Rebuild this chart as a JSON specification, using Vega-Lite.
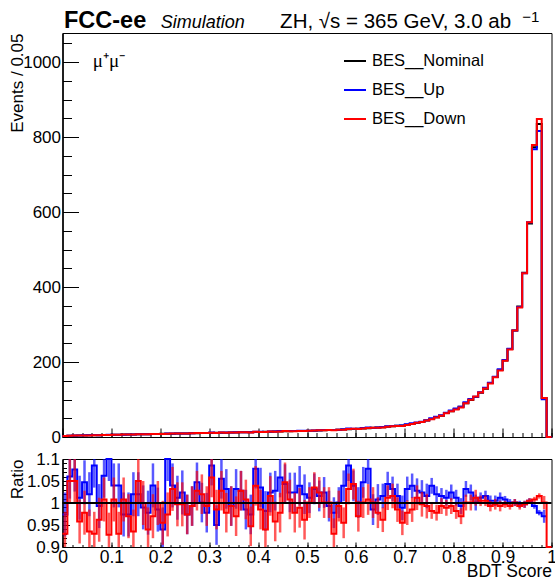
{
  "$schema": "https://vega.github.io/schema/vega-lite/v6.json",
  "padding": {"left": 7.5, "top": 8, "right": 0, "bottom": 0},
  "spacing": 3,
  "config": {
    "font": "Liberation Sans",
    "view": {"stroke": "#000000", "strokeWidth": 1},
    "axis": {"domainColor": "#000000", "tickColor": "#000000", "labelColor": "#000000", "titleColor": "#000000", "titleFontWeight": "normal", "grid": false, "labelFont": "Liberation Sans", "titleFont": "Liberation Sans", "labelOverlap": false, "labelFlush": false}
  },
  "datasets": {
    "hist": [
      {"x":0,"n":3,"u":2.9,"d":2.8},
      {"x":0.005,"n":3,"u":2.9,"d":2.8},
      {"x":0.015,"n":3.3,"u":3.5,"d":3.5},
      {"x":0.025,"n":3.6,"u":3.9,"d":3.8},
      {"x":0.035,"n":3.9,"u":3.9,"d":3.7},
      {"x":0.045,"n":4.2,"u":4.4,"d":4.1},
      {"x":0.055,"n":4.5,"u":4.6,"d":4.2},
      {"x":0.065,"n":4.8,"u":5.2,"d":4.5},
      {"x":0.075,"n":5,"u":5.0,"d":4.8},
      {"x":0.085,"n":5.3,"u":5.6,"d":5.3},
      {"x":0.095,"n":5.6,"u":6.2,"d":5.2},
      {"x":0.105,"n":5.9,"u":6.1,"d":5.9},
      {"x":0.115,"n":6.1,"u":6.3,"d":5.7},
      {"x":0.125,"n":6.4,"u":6.2,"d":6.5},
      {"x":0.135,"n":6.6,"u":6.4,"d":6.4},
      {"x":0.145,"n":6.9,"u":7.0,"d":6.5},
      {"x":0.155,"n":7.1,"u":7.2,"d":7.5},
      {"x":0.165,"n":7.4,"u":7.3,"d":7.4},
      {"x":0.175,"n":7.6,"u":7.4,"d":7.1},
      {"x":0.185,"n":7.9,"u":8.2,"d":7.7},
      {"x":0.195,"n":8.1,"u":8.0,"d":8.1},
      {"x":0.205,"n":8.4,"u":7.9,"d":8.0},
      {"x":0.215,"n":8.6,"u":9.5,"d":8.4},
      {"x":0.225,"n":8.9,"u":9.3,"d":9.2},
      {"x":0.235,"n":9.1,"u":9.2,"d":9.1},
      {"x":0.245,"n":9.4,"u":9.6,"d":9.4},
      {"x":0.255,"n":9.6,"u":9.4,"d":9.4},
      {"x":0.265,"n":9.9,"u":9.8,"d":9.8},
      {"x":0.275,"n":10.1,"u":10.6,"d":10.4},
      {"x":0.285,"n":10.4,"u":10.4,"d":10.6},
      {"x":0.295,"n":10.6,"u":10.4,"d":10.5},
      {"x":0.305,"n":10.9,"u":11.8,"d":11.5},
      {"x":0.315,"n":11.1,"u":10.5,"d":10.9},
      {"x":0.325,"n":11.4,"u":12.0,"d":11.7},
      {"x":0.335,"n":11.6,"u":12.0,"d":11.3},
      {"x":0.345,"n":11.9,"u":11.8,"d":11.8},
      {"x":0.355,"n":12.1,"u":12.5,"d":11.7},
      {"x":0.365,"n":12.4,"u":12.7,"d":12.7},
      {"x":0.375,"n":12.7,"u":12.5,"d":12.8},
      {"x":0.385,"n":13,"u":12.7,"d":12.3},
      {"x":0.395,"n":13.3,"u":14.3,"d":13.8},
      {"x":0.405,"n":13.6,"u":14.1,"d":13.4},
      {"x":0.415,"n":13.9,"u":13.6,"d":13.1},
      {"x":0.425,"n":14.2,"u":14.5,"d":14.4},
      {"x":0.435,"n":14.5,"u":14.9,"d":13.9},
      {"x":0.445,"n":14.8,"u":15.7,"d":14.5},
      {"x":0.455,"n":15.1,"u":15.7,"d":15.8},
      {"x":0.465,"n":15.4,"u":15.8,"d":15.5},
      {"x":0.475,"n":15.7,"u":16.1,"d":15.4},
      {"x":0.485,"n":16,"u":16.6,"d":15.8},
      {"x":0.495,"n":16.3,"u":16.6,"d":15.7},
      {"x":0.505,"n":16.6,"u":16.8,"d":16.6},
      {"x":0.515,"n":17,"u":17.5,"d":17.6},
      {"x":0.525,"n":17.5,"u":17.8,"d":17.9},
      {"x":0.535,"n":18,"u":18.4,"d":18.0},
      {"x":0.545,"n":18.5,"u":18.4,"d":18.5},
      {"x":0.555,"n":19,"u":18.6,"d":17.7},
      {"x":0.565,"n":19.6,"u":19.6,"d":19.5},
      {"x":0.575,"n":20.2,"u":21.0,"d":19.3},
      {"x":0.585,"n":20.8,"u":22.6,"d":21.5},
      {"x":0.595,"n":21.4,"u":22.2,"d":22.3},
      {"x":0.605,"n":22,"u":22.0,"d":21.3},
      {"x":0.615,"n":22.8,"u":23.9,"d":22.8},
      {"x":0.625,"n":23.6,"u":25.4,"d":23.8},
      {"x":0.635,"n":24.4,"u":24.0,"d":24.4},
      {"x":0.645,"n":25.3,"u":25.5,"d":24.7},
      {"x":0.655,"n":26.2,"u":26.6,"d":25.2},
      {"x":0.665,"n":27.2,"u":28.4,"d":27.5},
      {"x":0.675,"n":28.4,"u":29.3,"d":28.9},
      {"x":0.685,"n":29.7,"u":30.2,"d":29.3},
      {"x":0.695,"n":31,"u":30.7,"d":29.6},
      {"x":0.705,"n":33,"u":34.1,"d":32.3},
      {"x":0.715,"n":35,"u":36.4,"d":34.5},
      {"x":0.725,"n":37.5,"u":38.5,"d":37.9},
      {"x":0.735,"n":40,"u":41,"d":39.9},
      {"x":0.745,"n":44,"u":44.7,"d":43.7},
      {"x":0.755,"n":48,"u":49.9,"d":47.1},
      {"x":0.765,"n":53,"u":54.1,"d":51.8},
      {"x":0.775,"n":57,"u":57.9,"d":56.6},
      {"x":0.785,"n":64,"u":64.8,"d":63.3},
      {"x":0.795,"n":69,"u":70.7,"d":68.5},
      {"x":0.805,"n":75,"u":75.9,"d":73.7},
      {"x":0.815,"n":81,"u":80.4,"d":78.6},
      {"x":0.825,"n":90,"u":92.9,"d":90.1},
      {"x":0.835,"n":99,"u":101.4,"d":99.1},
      {"x":0.845,"n":107,"u":107.1,"d":108.3},
      {"x":0.855,"n":118,"u":119.4,"d":118.6},
      {"x":0.865,"n":129,"u":131.1,"d":129.6},
      {"x":0.875,"n":144,"u":144.7,"d":143},
      {"x":0.885,"n":160,"u":160.8,"d":159.5},
      {"x":0.895,"n":179,"u":181.1,"d":177.7},
      {"x":0.905,"n":204,"u":205.6,"d":203.4},
      {"x":0.915,"n":235,"u":235.2,"d":233.4},
      {"x":0.925,"n":284,"u":284.3,"d":284.3},
      {"x":0.935,"n":348,"u":347,"d":345.6},
      {"x":0.945,"n":438,"u":436.7,"d":436.7},
      {"x":0.955,"n":570,"u":572.9,"d":572.9},
      {"x":0.965,"n":773,"u":767.6,"d":779.2},
      {"x":0.975,"n":835,"u":816.6,"d":848.4},
      {"x":0.985,"n":104,"u":100.9,"d":104.1},
      {"x":0.995,"n":0,"u":0,"d":0},
      {"x":1,"n":0,"u":0,"d":0}
    ],
    "ratio": [
      {"x":0,"u":0.974,"d":0.93},
      {"x":0.005,"u":0.974,"d":0.93,"e":0.05},
      {"x":0.015,"u":1.06,"d":1.05,"e":0.05},
      {"x":0.025,"u":1.076,"d":1.05,"e":0.05},
      {"x":0.035,"u":1.012,"d":0.958,"e":0.05},
      {"x":0.045,"u":1.047,"d":0.978,"e":0.05},
      {"x":0.055,"u":1.02,"d":0.935,"e":0.05},
      {"x":0.065,"u":1.085,"d":0.93,"e":0.05},
      {"x":0.075,"u":0.993,"d":0.962,"e":0.05},
      {"x":0.085,"u":1.062,"d":1.008,"e":0.05},
      {"x":0.095,"u":1.1,"d":0.928,"e":0.05},
      {"x":0.105,"u":1.04,"d":1.008,"e":0.05},
      {"x":0.115,"u":1.04,"d":0.93,"e":0.05},
      {"x":0.125,"u":0.974,"d":1.008,"e":0.05},
      {"x":0.135,"u":0.974,"d":0.97,"e":0.05},
      {"x":0.145,"u":1.02,"d":0.935,"e":0.05},
      {"x":0.155,"u":1.02,"d":1.05,"e":0.05},
      {"x":0.165,"u":0.99,"d":1.0,"e":0.05},
      {"x":0.175,"u":0.978,"d":0.94,"e":0.05},
      {"x":0.185,"u":1.04,"d":0.97,"e":0.05},
      {"x":0.195,"u":0.985,"d":1.0,"e":0.05},
      {"x":0.205,"u":0.94,"d":0.955,"e":0.05},
      {"x":0.215,"u":1.1,"d":0.974,"e":0.05},
      {"x":0.225,"u":1.04,"d":1.032,"e":0.05},
      {"x":0.235,"u":1.012,"d":0.997,"e":0.05},
      {"x":0.245,"u":1.024,"d":0.997,"e":0.05},
      {"x":0.255,"u":0.974,"d":0.974,"e":0.045},
      {"x":0.265,"u":0.993,"d":0.993,"e":0.045},
      {"x":0.275,"u":1.047,"d":1.028,"e":0.045},
      {"x":0.285,"u":1.001,"d":1.02,"e":0.045},
      {"x":0.295,"u":0.978,"d":0.993,"e":0.045},
      {"x":0.305,"u":1.085,"d":1.058,"e":0.045},
      {"x":0.315,"u":0.95,"d":0.985,"e":0.045},
      {"x":0.325,"u":1.055,"d":1.028,"e":0.045},
      {"x":0.335,"u":1.032,"d":0.978,"e":0.045},
      {"x":0.345,"u":0.993,"d":0.993,"e":0.045},
      {"x":0.355,"u":1.032,"d":0.97,"e":0.045},
      {"x":0.365,"u":1.028,"d":1.028,"e":0.045},
      {"x":0.375,"u":0.985,"d":1.008,"e":0.045},
      {"x":0.385,"u":0.974,"d":0.947,"e":0.045},
      {"x":0.395,"u":1.078,"d":1.039,"e":0.045},
      {"x":0.405,"u":1.035,"d":0.985,"e":0.045},
      {"x":0.415,"u":0.982,"d":0.94,"e":0.045},
      {"x":0.425,"u":1.024,"d":1.016,"e":0.045},
      {"x":0.435,"u":1.028,"d":0.958,"e":0.045},
      {"x":0.445,"u":1.058,"d":0.978,"e":0.045},
      {"x":0.455,"u":1.043,"d":1.047,"e":0.045},
      {"x":0.465,"u":1.024,"d":1.008,"e":0.045},
      {"x":0.475,"u":1.024,"d":0.978,"e":0.045},
      {"x":0.485,"u":1.039,"d":0.989,"e":0.045},
      {"x":0.495,"u":1.02,"d":0.962,"e":0.045},
      {"x":0.505,"u":1.012,"d":1.001,"e":0.035},
      {"x":0.515,"u":1.032,"d":1.035,"e":0.035},
      {"x":0.525,"u":1.016,"d":1.024,"e":0.035},
      {"x":0.535,"u":1.024,"d":1.001,"e":0.035},
      {"x":0.545,"u":0.993,"d":1.001,"e":0.035},
      {"x":0.555,"u":0.978,"d":0.93,"e":0.035},
      {"x":0.565,"u":1.001,"d":0.993,"e":0.035},
      {"x":0.575,"u":1.039,"d":0.955,"e":0.035},
      {"x":0.585,"u":1.085,"d":1.032,"e":0.035},
      {"x":0.595,"u":1.039,"d":1.043,"e":0.035},
      {"x":0.605,"u":1.001,"d":0.97,"e":0.035},
      {"x":0.615,"u":1.047,"d":1.001,"e":0.035},
      {"x":0.625,"u":1.078,"d":1.008,"e":0.035},
      {"x":0.635,"u":0.985,"d":1.001,"e":0.035},
      {"x":0.645,"u":1.008,"d":0.978,"e":0.035},
      {"x":0.655,"u":1.016,"d":0.962,"e":0.028},
      {"x":0.665,"u":1.043,"d":1.012,"e":0.028},
      {"x":0.675,"u":1.032,"d":1.016,"e":0.028},
      {"x":0.685,"u":1.016,"d":0.985,"e":0.028},
      {"x":0.695,"u":0.989,"d":0.955,"e":0.028},
      {"x":0.705,"u":1.032,"d":0.978,"e":0.028},
      {"x":0.715,"u":1.039,"d":0.985,"e":0.028},
      {"x":0.725,"u":1.028,"d":1.012,"e":0.028},
      {"x":0.735,"u":1.024,"d":0.997,"e":0.028},
      {"x":0.745,"u":1.016,"d":0.993,"e":0.028},
      {"x":0.755,"u":1.039,"d":0.982,"e":0.018},
      {"x":0.765,"u":1.02,"d":0.978,"e":0.018},
      {"x":0.775,"u":1.016,"d":0.993,"e":0.018},
      {"x":0.785,"u":1.012,"d":0.989,"e":0.018},
      {"x":0.795,"u":1.024,"d":0.993,"e":0.018},
      {"x":0.805,"u":1.012,"d":0.982,"e":0.018},
      {"x":0.815,"u":0.993,"d":0.97,"e":0.018},
      {"x":0.825,"u":1.032,"d":1.001,"e":0.018},
      {"x":0.835,"u":1.024,"d":1.001,"e":0.018},
      {"x":0.845,"u":1.001,"d":1.012,"e":0.018},
      {"x":0.855,"u":1.012,"d":1.005,"e":0.012},
      {"x":0.865,"u":1.016,"d":1.005,"e":0.012},
      {"x":0.875,"u":1.005,"d":0.993,"e":0.012},
      {"x":0.885,"u":1.005,"d":0.997,"e":0.012},
      {"x":0.895,"u":1.012,"d":0.993,"e":0.012},
      {"x":0.905,"u":1.008,"d":0.997,"e":0.008},
      {"x":0.915,"u":1.001,"d":0.993,"e":0.008},
      {"x":0.925,"u":1.001,"d":1.001,"e":0.008},
      {"x":0.935,"u":0.997,"d":0.993,"e":0.008},
      {"x":0.945,"u":0.997,"d":0.997,"e":0.008},
      {"x":0.955,"u":1.005,"d":1.005,"e":0.006},
      {"x":0.965,"u":0.993,"d":1.008,"e":0.006},
      {"x":0.975,"u":0.978,"d":1.016,"e":0.006},
      {"x":0.985,"u":0.97,"d":1.001,"e":0.015},
      {"x":0.99,"u":0.97},
      {"x":0.995,"d":0},
      {"x":1,"d":0}
    ]
  },
  "vconcat": [
    {
      "width": 489,
      "height": 404,
      "data": {"name": "hist"},
      "resolve": {"axis": {"x": "independent", "y": "independent"}},
      "layer": [
        {
          "mark": {"type": "line", "interpolate": "step", "strokeWidth": 2},
          "encoding": {
            "x": {"field": "x", "type": "quantitative", "title": null, "scale": {"domain": [0, 1], "nice": false, "zero": false},
              "axis": {"orient": "bottom", "title": null, "labels": false, "tickSize": -4.5,
                "values": [0,0.02,0.04,0.06,0.08,0.1,0.12,0.14,0.16,0.18,0.2,0.22,0.24,0.26,0.28,0.3,0.32,0.34,0.36,0.38,0.4,0.42,0.44,0.46,0.48,0.5,0.52,0.54,0.56,0.58,0.6,0.62,0.64,0.66,0.68,0.7,0.72,0.74,0.76,0.78,0.8,0.82,0.84,0.86,0.88,0.9,0.92,0.94,0.96,0.98,1]}},
            "y": {"field": "n", "type": "quantitative", "title": null, "scale": {"domain": [0, 1078], "nice": false},
              "axis": {"orient": "left", "title": null, "labels": false, "tickSize": -9,
                "values": [0,50,100,150,200,250,300,350,400,450,500,550,600,650,700,750,800,850,900,950,1000,1050]}},
            "color": {"datum": "Nominal",
              "scale": {"domain": ["Nominal", "Up", "Down"], "range": ["#000000", "#0000ff", "#ff0000"]},
              "legend": {"orient": "none", "legendX": 280.5, "legendY": 16, "title": null, "symbolType": "stroke", "symbolStrokeWidth": 2, "symbolSize": 484, "labelFontSize": 16.5, "labelFont": "Liberation Sans", "labelColor": "#000000", "rowPadding": 8, "padding": 0, "labelOffset": 5, "labelExpr": "'BES__' + datum.label"}}
          }
        },
        {
          "mark": {"type": "line", "interpolate": "step", "strokeWidth": 2},
          "encoding": {
            "x": {"field": "x", "type": "quantitative", "title": null,
              "axis": {"orient": "bottom", "title": null, "labels": false, "tickSize": -9,
                "values": [0,0.1,0.2,0.3,0.4,0.5,0.6,0.7,0.8,0.9,1]}},
            "y": {"field": "u", "type": "quantitative", "title": "Events / 0.05",
              "axis": {"orient": "left", "title": "Events / 0.05", "titleAnchor": "end", "titleFontSize": 17, "titlePadding": 6, "minExtent": 30, "maxExtent": 30,
                "values": [0,200,400,600,800,1000], "format": "d",
                "labelFontSize": 17, "labelPadding": 18, "tickSize": -16}},
            "color": {"datum": "Up"}
          }
        },
        {
          "mark": {"type": "line", "interpolate": "step", "strokeWidth": 2},
          "encoding": {
            "x": {"field": "x", "type": "quantitative", "axis": null},
            "y": {"field": "d", "type": "quantitative", "axis": null},
            "color": {"datum": "Down"}
          }
        },
        {
          "data": {"values": [{}]},
          "mark": {"type": "text", "text": "FCC-ee", "font": "Liberation Sans", "fontSize": 23.5, "fontWeight": "bold", "align": "left", "baseline": "alphabetic", "color": "#000000"},
          "encoding": {"x": {"datum": 0.003, "type": "quantitative", "axis": null}, "y": {"datum": 1091, "type": "quantitative", "axis": null}}
        },
        {
          "data": {"values": [{}]},
          "mark": {"type": "text", "text": "Simulation", "font": "Liberation Sans", "fontSize": 18, "fontStyle": "italic", "align": "left", "baseline": "alphabetic", "color": "#000000"},
          "encoding": {"x": {"datum": 0.201, "type": "quantitative", "axis": null}, "y": {"datum": 1091, "type": "quantitative", "axis": null}}
        },
        {
          "data": {"values": [{}]},
          "mark": {"type": "text", "text": "ZH, √s = 365 GeV, 3.0 ab", "font": "Liberation Sans", "fontSize": 20.5, "align": "left", "baseline": "alphabetic", "color": "#000000"},
          "encoding": {"x": {"datum": 0.445, "type": "quantitative", "axis": null}, "y": {"datum": 1091, "type": "quantitative", "axis": null}}
        },
        {
          "data": {"values": [{}]},
          "mark": {"type": "text", "text": "−1", "font": "Liberation Sans", "fontSize": 15, "align": "left", "baseline": "alphabetic", "color": "#000000"},
          "encoding": {"x": {"datum": 0.94, "type": "quantitative", "axis": null}, "y": {"datum": 1107, "type": "quantitative", "axis": null}}
        },
        {
          "data": {"values": [{}]},
          "mark": {"type": "text", "text": "μ⁺μ⁻", "font": "Liberation Serif", "fontSize": 19, "align": "left", "baseline": "alphabetic", "color": "#000000"},
          "encoding": {"x": {"datum": 0.062, "type": "quantitative", "axis": null}, "y": {"datum": 987, "type": "quantitative", "axis": null}}
        }
      ]
    },
    {
      "width": 489,
      "height": 88,
      "data": {"name": "ratio"},
      "resolve": {"axis": {"x": "independent", "y": "independent"}},
      "layer": [
        {
          "mark": {"type": "line", "interpolate": "step", "strokeWidth": 2, "color": "#0000ff", "invalid": "filter"},
          "encoding": {
            "x": {"field": "x", "type": "quantitative", "title": null, "scale": {"domain": [0, 1], "nice": false, "zero": false},
              "axis": {"orient": "bottom", "title": null, "labels": false, "tickSize": -2.5,
                "values": [0,0.02,0.04,0.06,0.08,0.1,0.12,0.14,0.16,0.18,0.2,0.22,0.24,0.26,0.28,0.3,0.32,0.34,0.36,0.38,0.4,0.42,0.44,0.46,0.48,0.5,0.52,0.54,0.56,0.58,0.6,0.62,0.64,0.66,0.68,0.7,0.72,0.74,0.76,0.78,0.8,0.82,0.84,0.86,0.88,0.9,0.92,0.94,0.96,0.98,1]}},
            "y": {"field": "u", "type": "quantitative", "title": null, "scale": {"domain": [0.9, 1.1], "nice": false, "zero": false, "clamp": true},
              "axis": {"orient": "left", "title": null, "labels": false, "tickSize": -4,
                "values": [0.9,0.91,0.92,0.93,0.94,0.95,0.96,0.97,0.98,0.99,1,1.01,1.02,1.03,1.04,1.05,1.06,1.07,1.08,1.09,1.1]}}
          }
        },
        {
          "transform": [{"filter": "isValid(datum.e) && isValid(datum.u)"}],
          "mark": {"type": "errorbar", "ticks": false, "thickness": 2.5, "color": "#0000ff", "opacity": 0.65},
          "encoding": {
            "x": {"field": "x", "type": "quantitative", "axis": null},
            "y": {"field": "u", "type": "quantitative", "axis": null},
            "yError": {"field": "e"}
          }
        },
        {
          "mark": {"type": "line", "interpolate": "step", "strokeWidth": 2, "color": "#ff0000", "invalid": "filter"},
          "encoding": {
            "x": {"field": "x", "type": "quantitative", "title": "BDT Score",
              "axis": {"orient": "bottom", "title": "BDT Score", "titleAnchor": "end", "titleFontSize": 17.5, "titlePadding": 9.5, "minExtent": 6, "maxExtent": 6,
                "values": [0,0.1,0.2,0.3,0.4,0.5,0.6,0.7,0.8,0.9,1], "format": "~g",
                "labelFontSize": 17.5, "labelPadding": 6.5, "tickSize": -5}},
            "y": {"field": "d", "type": "quantitative", "title": "Ratio",
              "axis": {"orient": "left", "title": "Ratio", "titleAnchor": "end", "titleFontSize": 17, "titlePadding": 6, "minExtent": 30, "maxExtent": 30,
                "values": [0.9,0.95,1,1.05,1.1], "format": "~g",
                "labelFontSize": 17, "labelPadding": 10, "tickSize": -7}}
          }
        },
        {
          "transform": [{"filter": "isValid(datum.e) && isValid(datum.d)"}],
          "mark": {"type": "errorbar", "ticks": false, "thickness": 2.5, "color": "#ff0000", "opacity": 0.65},
          "encoding": {
            "x": {"field": "x", "type": "quantitative", "axis": null},
            "y": {"field": "d", "type": "quantitative", "axis": null},
            "yError": {"field": "e"}
          }
        },
        {
          "data": {"values": [{}]},
          "mark": {"type": "rule", "color": "#000000", "strokeWidth": 2},
          "encoding": {"y": {"datum": 1, "type": "quantitative", "axis": null}}
        }
      ]
    }
  ]
}
